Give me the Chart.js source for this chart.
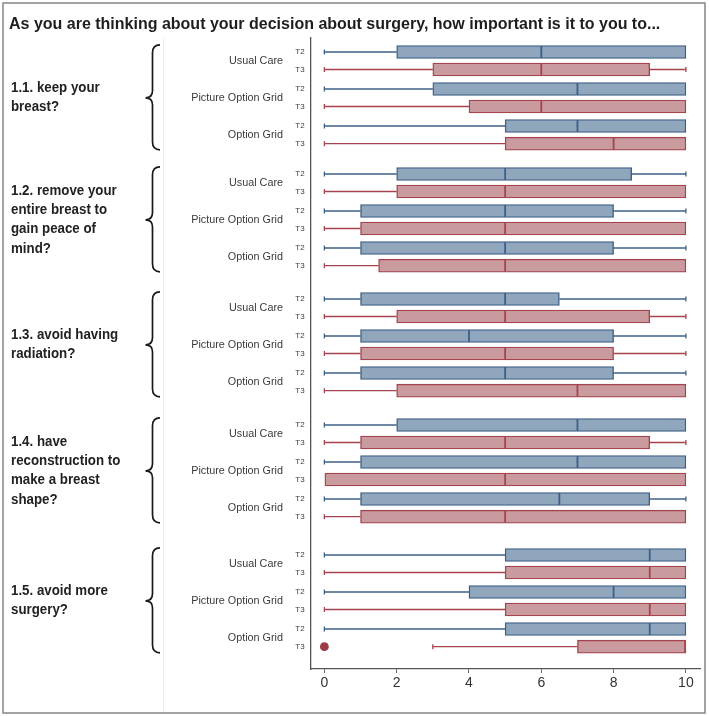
<!DOCTYPE html>
<html><head><meta charset="utf-8">
<script src="https://cdn.jsdelivr.net/npm/chart.js@4.4.1/dist/chart.umd.min.js"></script>
<style>html,body{margin:0;padding:0;background:#fff;}canvas{display:block;}</style>
</head><body>
<canvas id="c" width="709" height="716"></canvas>
<script>
const titleText = 'As you are thinking about your decision about surgery, how important is it to you to...';
const questions = [
  ['1.1. keep your', 'breast?'],
  ['1.2. remove your', 'entire breast to', 'gain peace of', 'mind?'],
  ['1.3. avoid having', 'radiation?'],
  ['1.4. have', 'reconstruction to', 'make a breast', 'shape?'],
  ['1.5. avoid more', 'surgery?']
];
const arms = ['Usual Care', 'Picture Option Grid', 'Option Grid'];
const times = ['T2', 'T3'];
const xTicks = [0, 2, 4, 6, 8, 10];

// one entry per question x arm (UC, POG, OG for 1.1, then 1.2 ...)
const t2Low  = [0,0,0, 0,0,0, 0,0,0, 0,0,0, 0,0,0];
const t2Q1   = [2,3,5, 2,1,1, 1,1,1, 2,1,1, 5,4,5];
const t2Med  = [6,7,7, 5,5,5, 5,4,5, 7,7,6.5, 9,8,9];
const t2Q3   = [10,10,10, 8.5,8,8, 6.5,8,8, 10,10,9, 10,10,10];
const t2High = [10,10,10, 10,10,10, 10,10,10, 10,10,10, 10,10,10];

const t3Low  = [0,0,0, 0,0,0, 0,0,0, 0,0,0, 0,0,3];
const t3Q1   = [3,4,5, 2,1,1.5, 2,1,2, 1,0,1, 5,5,7];
const t3Med  = [6,6,8, 5,5,5, 5,5,7, 5,5,5, 9,9,10];
const t3Q3   = [9,10,10, 10,10,10, 9,8,10, 9,10,10, 10,10,10];
const t3High = [10,10,10, 10,10,10, 10,10,10, 10,10,10, 10,10,10];

const outlierQuestion = [4];
const outlierArm = [2];
const outlierTime = [1];
const outlierValue = [0];

// layout (pixel-like units on the vertical linear scale)
const GROUP_START = [0, 122, 247, 373, 503];
const ROW_OFFSET = [0, 17.5, 37, 54.5, 74, 91.7];
const rowPos = (q, a, t) => GROUP_START[q] + ROW_OFFSET[a * 2 + t];

const BLUE_FILL = '#8fa6bd', BLUE_LINE = '#3d5f86';
const RED_FILL = '#c99b9f', RED_LINE = '#a5444e';
const BOX_H = 13;

const series = [
  {low: t2Low, q1: t2Q1, med: t2Med, q3: t2Q3, high: t2High, fill: BLUE_FILL, line: BLUE_LINE},
  {low: t3Low, q1: t3Q1, med: t3Med, q3: t3Q3, high: t3High, fill: RED_FILL, line: RED_LINE}
];

function boxData(t) {
  const s = series[t], out = [];
  for (let q = 0; q < questions.length; q++)
    for (let a = 0; a < arms.length; a++) {
      const i = q * arms.length + a;
      out.push({x: [s.q1[i], s.q3[i]], y: rowPos(q, a, t)});
    }
  return out;
}

const datasets = series.map((s, t) => ({
  type: 'bar', label: times[t], indexAxis: 'y', grouped: false,
  data: boxData(t), backgroundColor: s.fill, borderColor: s.line,
  borderWidth: 1.4, borderSkipped: false, barThickness: BOX_H,
  xAxisID: 'x', yAxisID: 'y'
}));
datasets.push({
  type: 'scatter', label: 'outliers',
  data: outlierValue.map((v, k) => ({x: v, y: rowPos(outlierQuestion[k], outlierArm[k], outlierTime[k])})),
  backgroundColor: '#9d3a43', borderWidth: 0, pointRadius: 4.4, xAxisID: 'x', yAxisID: 'y'
});

function line(ctx, x1, y1, x2, y2) { ctx.beginPath(); ctx.moveTo(x1, y1); ctx.lineTo(x2, y2); ctx.stroke(); }

const boxPlugin = {
  id: 'boxParts',
  beforeDatasetsDraw(chart) {
    const {ctx, scales: {x, y}} = chart;
    ctx.save();
    ctx.lineWidth = 1.3;
    series.forEach((s, t) => {
      ctx.strokeStyle = s.line;
      for (let q = 0; q < questions.length; q++)
        for (let a = 0; a < arms.length; a++) {
          const i = q * arms.length + a;
          const py = y.getPixelForValue(rowPos(q, a, t));
          if (s.low[i] < s.q1[i]) {
            const xl = x.getPixelForValue(s.low[i]);
            line(ctx, xl, py, x.getPixelForValue(s.q1[i]), py);
            line(ctx, xl, py - 2.5, xl, py + 2.5);
          }
          if (s.high[i] > s.q3[i]) {
            const xh = x.getPixelForValue(s.high[i]);
            line(ctx, x.getPixelForValue(s.q3[i]), py, xh, py);
            line(ctx, xh, py - 2.5, xh, py + 2.5);
          }
        }
    });
    ctx.restore();
  },
  afterDatasetsDraw(chart) {
    const {ctx, scales: {x, y}} = chart;
    ctx.save();
    ctx.lineWidth = 1.8;
    series.forEach((s, t) => {
      ctx.strokeStyle = s.line;
      for (let q = 0; q < questions.length; q++)
        for (let a = 0; a < arms.length; a++) {
          const i = q * arms.length + a;
          const py = y.getPixelForValue(rowPos(q, a, t));
          let xm = x.getPixelForValue(s.med[i]);
          if (s.med[i] >= 10) xm -= 0.8;
          line(ctx, xm, py - BOX_H / 2 + 0.5, xm, py + BOX_H / 2 - 0.5);
        }
    });
    ctx.restore();
  },
  afterDraw(chart) {
    const {ctx, scales: {y}} = chart;
    ctx.save();
    // frame
    ctx.strokeStyle = '#8c8c8c'; ctx.lineWidth = 1.6;
    ctx.strokeRect(3, 3, 702, 710);
    ctx.strokeStyle = '#efefef'; ctx.lineWidth = 1;
    line(ctx, 163.5, 38, 163.5, 712);
    // title
    ctx.fillStyle = '#1e1e1e';
    ctx.font = 'bold 16px "Liberation Sans", Arial, sans-serif';
    ctx.textBaseline = 'middle'; ctx.textAlign = 'left';
    const w = ctx.measureText(titleText).width, target = 662;
    ctx.save(); ctx.translate(9, 25); ctx.scale(Math.min(1, target / w), 1);
    ctx.fillText(titleText, 0, 0); ctx.restore();
    for (let q = 0; q < questions.length; q++) {
      const top = y.getPixelForValue(rowPos(q, 0, 0));
      const bot = y.getPixelForValue(rowPos(q, 2, 1));
      const cy = (top + bot) / 2;
      // question text
      ctx.fillStyle = '#222';
      ctx.font = 'bold 14px "Liberation Sans", Arial, sans-serif';
      ctx.textAlign = 'left';
      const lines = questions[q], lh = 19.3;
      lines.forEach((txt, k) => {
        const ly = cy + (k - (lines.length - 1) / 2) * lh;
        ctx.save(); ctx.translate(11, ly); ctx.scale(0.95, 1); ctx.fillText(txt, 0, 0); ctx.restore();
      });
      // brace
      ctx.strokeStyle = '#1a1a1a'; ctx.lineWidth = 1.7;
      const t0 = cy - 53, t1 = cy + 52, xv = 152.5, xr = 160, xt = 145.5;
      ctx.beginPath();
      ctx.moveTo(xr, t0);
      ctx.quadraticCurveTo(xv, t0, xv, t0 + 8);
      ctx.lineTo(xv, cy - 7);
      ctx.quadraticCurveTo(xv, cy, xt, cy);
      ctx.quadraticCurveTo(xv, cy, xv, cy + 7);
      ctx.lineTo(xv, t1 - 8);
      ctx.quadraticCurveTo(xv, t1, xr, t1);
      ctx.stroke();
      // arm + time labels
      for (let a = 0; a < arms.length; a++) {
        const y2 = y.getPixelForValue(rowPos(q, a, 0));
        const y3 = y.getPixelForValue(rowPos(q, a, 1));
        ctx.fillStyle = '#3a3a3a';
        ctx.font = '10.8px "Liberation Sans", Arial, sans-serif';
        ctx.textAlign = 'right';
        ctx.fillText(arms[a], 283, (y2 + y3) / 2);
        ctx.font = '8px "Liberation Sans", Arial, sans-serif';
        ctx.textAlign = 'center';
        ctx.fillText(times[0], 300, y2);
        ctx.fillText(times[1], 300, y3);
      }
    }
    ctx.restore();
  }
};

new Chart(document.getElementById('c'), {
  data: {datasets},
  options: {
    responsive: false, animation: false,
    layout: {padding: {left: 311, top: 38, right: 9, bottom: 0}},
    plugins: {legend: {display: false}, tooltip: {enabled: false}, title: {display: false}},
    scales: {
      x: {
        type: 'linear', position: 'bottom', min: -0.37, max: 10.39, offset: false,
        afterBuildTicks: s => { s.ticks = xTicks.map(v => ({value: v})); },
        afterFit: s => { s.height = 47; },
        ticks: {color: '#333', font: {size: 14, family: '"Liberation Sans", Arial, sans-serif'}, padding: 2,
                callback: v => String(v)},
        grid: {drawOnChartArea: false, drawTicks: true, tickLength: 4, color: '#666', lineWidth: 1, offset: false},
        border: {display: true, color: '#555', width: 1.3}
      },
      y: {
        type: 'linear', position: 'left', reverse: true, min: -14, max: 617, offset: false,
        afterFit: s => { s.width = 0; },
        ticks: {display: false},
        grid: {display: false, drawTicks: false, offset: false},
        border: {display: true, color: '#555', width: 1.3}
      }
    }
  },
  plugins: [boxPlugin]
});
</script>
</body></html>
